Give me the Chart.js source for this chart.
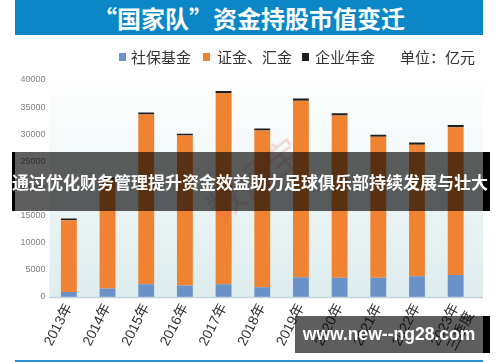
<!DOCTYPE html>
<html>
<head>
<meta charset="utf-8">
<script src="https://cdn.jsdelivr.net/npm/chart.js@4"></script>
<style>
html,body{margin:0;padding:0;background:#fff;}
#wrap{position:relative;width:500px;height:362px;overflow:hidden;font-family:"Noto Sans CJK SC","Liberation Sans",sans-serif;}
#title{position:absolute;left:15px;top:0;width:468px;height:35px;background:#0b87c7;color:#fff;font-weight:bold;font-size:24px;line-height:35px;text-align:center;letter-spacing:0px;}
.lg{position:absolute;top:48px;font-size:15px;line-height:18px;color:#333;white-space:nowrap;}
.sw{position:absolute;top:53px;width:7px;height:8px;}
#cwrap{position:absolute;left:0;top:0;width:500px;height:362px;}
#wm{position:absolute;left:200px;top:160px;width:100px;text-align:center;font-size:36px;line-height:40px;color:rgba(235,90,90,0.22);transform:rotate(-38deg);white-space:nowrap;}
#band{position:absolute;left:12px;top:152px;width:478px;height:59px;background:rgba(0,0,0,0.63);}
#bandL{position:absolute;left:12px;top:152px;width:3px;height:59px;background:#000;}
#bandR{position:absolute;left:483px;top:152px;width:7px;height:59px;background:#000;}
#bandT{position:absolute;left:0;top:152px;width:500px;height:59px;line-height:59px;text-align:center;color:#fff;font-weight:bold;font-size:17px;white-space:nowrap;}
#url{position:absolute;left:295px;top:316px;width:195px;height:37px;background:rgba(0,0,0,0.63);}
#urlR{position:absolute;left:483px;top:316px;width:7px;height:37px;background:#000;}
#urlT{position:absolute;left:295px;top:316px;width:188px;height:37px;line-height:37px;text-align:center;color:#fff;font-weight:bold;font-size:17.5px;font-family:"Liberation Sans",Arial,sans-serif;white-space:nowrap;}
#bline{position:absolute;left:15px;top:360px;width:468px;height:2px;background:#2a90d0;}
</style>
</head>
<body>
<div id="wrap">
  <div id="cwrap"><canvas id="c"></canvas></div>
  <div id="title">“国家队”资金持股市值变迁</div>
  <div id="legend"></div>
  <div id="wm">数据宝</div>
  <div id="band"></div><div id="bandL"></div><div id="bandR"></div>
  <div id="bandT">通过优化财务管理提升资金效益助力足球俱乐部持续发展与壮大</div>
  <div id="url"></div><div id="urlR"></div>
  <div id="urlT">www.new--ng28.com</div>
  <div id="bline"></div>
</div>
<script>
// ---- data (亿元) ----
const years = ['2013年','2014年','2015年','2016年','2017年','2018年','2019年','2020年','2021年','2022年',['2023年','三季度']];
const socialSecurity = [900,1550,2340,2100,2340,1790,3630,3570,3570,3820,4060];
const csfHuijin = [13250,20150,31300,27650,35280,28900,32540,29890,25960,24240,27240];
const annuity = [300,300,350,350,350,350,400,400,400,400,400];
const seriesNames = ['社保基金','证金、汇金','企业年金'];
const seriesColors = ['#6b92c8','#ef8332','#1e1e1e'];
const yTicks = [0,5000,10000,15000,20000,25000,30000,35000,40000];
const unitText = '单位：亿元';

// legend (html)
const lg = document.getElementById('legend');
const swX = [119,203,302], txX = [131,217,315];
seriesNames.forEach((n,i)=>{
  const s=document.createElement('div');s.className='sw';s.style.left=swX[i]+'px';s.style.background=seriesColors[i];lg.appendChild(s);
  const t=document.createElement('div');t.className='lg';t.style.left=txX[i]+'px';t.textContent=n;lg.appendChild(t);
});
const u=document.createElement('div');u.className='lg';u.style.left='400px';u.textContent=unitText;lg.appendChild(u);

const bgPlugin = {
  id:'bg',
  beforeDraw(chart){
    const {ctx, chartArea:a} = chart;
    const g = ctx.createLinearGradient(0,a.top-5,0,a.bottom);
    g.addColorStop(0,'#ffffff');
    g.addColorStop(1,'#ddeced');
    ctx.save();
    ctx.fillStyle=g;
    ctx.fillRect(a.left, a.top-5, 483-a.left, a.bottom-a.top+5);
    ctx.restore();
  },
  afterDatasetsDraw(chart){
    const {ctx, chartArea:a} = chart;
    ctx.save();
    ctx.strokeStyle='#c6d3da';ctx.lineWidth=1.5;
    ctx.beginPath();ctx.moveTo(a.left,a.bottom+0.5);ctx.lineTo(483,a.bottom+0.5);ctx.stroke();
    ctx.restore();
  }
};

new Chart(document.getElementById('c'), {
  type:'bar',
  data:{
    labels: years,
    datasets:[
      {label:seriesNames[0], data:socialSecurity, backgroundColor:seriesColors[0]},
      {label:seriesNames[1], data:csfHuijin, backgroundColor:seriesColors[1]},
      {label:seriesNames[2], data:annuity, backgroundColor:seriesColors[2]}
    ]
  },
  options:{
    responsive:true, maintainAspectRatio:false, animation:false,
    devicePixelRatio:1,
    layout:{padding:{top:80,left:0,right:25,bottom:0}},
    datasets:{bar:{barPercentage:0.41,categoryPercentage:1,borderWidth:0}},
    plugins:{legend:{display:false},tooltip:{enabled:false}},
    scales:{
      x:{stacked:true,
        grid:{display:false,drawTicks:false},
        border:{display:false},
        ticks:{color:'#333',font:{size:14,family:'"Liberation Sans","Noto Sans CJK SC",sans-serif'},minRotation:63,maxRotation:63,padding:4,autoSkip:false},
        afterFit(s){s.height=65;}
      },
      y:{stacked:true,min:0,max:40000,
        afterBuildTicks(s){s.ticks=yTicks.map(v=>({value:v}));},
        grid:{display:false,drawTicks:false},
        border:{display:false},
        ticks:{color:'#808080',font:{size:9,family:'"Liberation Sans",sans-serif'},padding:4,callback:v=>String(v)},
        afterFit(s){s.width=49.5;}
      }
    }
  },
  plugins:[bgPlugin]
});
</script>
</body>
</html>
